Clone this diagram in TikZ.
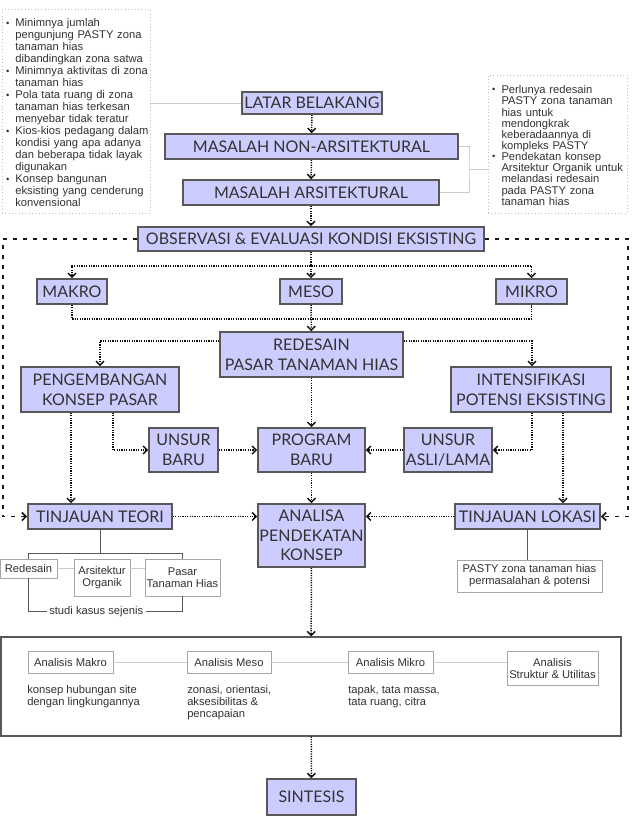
\documentclass[tikz,border=0pt]{standalone}
\usepackage{fontspec}
\setmainfont{Liberation Sans}
\newfontfamily\headfont{Lato}
\usepackage{xcolor}
\usetikzlibrary{arrows.meta, calc}

\definecolor{isian}{RGB}{204,204,255}
\definecolor{tepi}{RGB}{88,88,88}
\definecolor{tulisan}{RGB}{50,50,50}

\newenvironment{poin}{\begin{list}{\raisebox{0.15ex}{\scriptsize\textbullet}}{%
    \setlength\leftmargin{9.5pt}\setlength\labelwidth{5pt}\setlength\labelsep{4.5pt}%
    \setlength\itemsep{0pt}\setlength\parsep{0pt}\setlength\topsep{0pt}\setlength\partopsep{0pt}}}%
  {\end{list}}

\begin{document}
\begin{tikzpicture}[x=0.75pt, y=-0.75pt, >={Straight Barb[length=3pt,width=6pt]},
    judul/.style={draw=tepi, line width=1.2pt, fill=isian, text=tulisan, inner sep=0pt,
        font=\headfont\fontsize{12}{14.75}\selectfont, align=center},
    kotak/.style={draw=black!35, line width=0.6pt, fill=white, text=tulisan, inner sep=0pt,
        font=\fontsize{8.4}{9}\selectfont, align=center},
    catatan/.style={draw=black!25, dotted, line width=0.5pt, text=tulisan, inner sep=0pt, align=left},
    teks/.style={text=tulisan, inner sep=0pt, font=\fontsize{8.4}{9.1}\selectfont, align=left},
    alur/.style={->, draw=black!95, line width=1.1pt, dash pattern=on 0.9pt off 0.9pt},
    garis/.style={draw=black!20, line width=0.5pt},
    tegas/.style={draw=black!65, line width=0.7pt},
    putar/.style={->, draw=black!90, line width=1.3pt, dash pattern=on 3pt off 4.5pt}]
    \useasboundingbox (0,0) rectangle (631,816);

    % Catatan latar belakang
    \node[catatan, minimum width=111pt, minimum height=153pt, text width=110pt,
        font=\fontsize{8.4}{9}\selectfont] (catkiri) at (76,111) {\begin{poin}
        \item Minimnya jumlah\\ pengunjung PASTY zona\\ tanaman hias\\ dibandingkan zona satwa
        \item Minimnya aktivitas di zona\\ tanaman hias
        \item Pola tata ruang di zona\\ tanaman hias terkesan\\ menyebar tidak teratur
        \item Kios-kios pedagang dalam\\ kondisi yang apa adanya\\ dan beberapa tidak layak\\ digunakan
        \item Konsep bangunan\\ eksisting yang cenderung\\ konvensional
        \end{poin}};
    \node[catatan, minimum width=104.25pt, minimum height=103.5pt, text width=103pt,
        font=\fontsize{8.4}{8.35}\selectfont] (catkanan) at (557.5,144) {\begin{poin}
        \item Perlunya redesain\\ PASTY zona tanaman\\ hias untuk\\ mendongkrak\\ keberadaannya di\\ kompleks PASTY
        \item Pendekatan konsep\\ Arsitektur Organik untuk\\ melandasi redesain\\ pada PASTY zona\\ tanaman hias
        \end{poin}};

    % Kotak utama
    \node[judul, minimum width=105pt, minimum height=16.5pt] (latar) at (312,103) {LATAR BELAKANG};
    \node[judul, minimum width=219.75pt, minimum height=18.75pt] (nonars) at (311.5,146.5) {MASALAH NON-ARSITEKTURAL};
    \node[judul, minimum width=192pt, minimum height=18.75pt] (ars) at (311,192.5) {MASALAH ARSITEKTURAL};
    \node[judul, minimum width=259.5pt, minimum height=18pt] (observasi) at (311,239) {OBSERVASI \& EVALUASI KONDISI EKSISTING};
    \node[judul, minimum width=52.5pt, minimum height=18.75pt] (makro) at (72,291.5) {MAKRO};
    \node[judul, minimum width=46.5pt, minimum height=18.75pt] (meso) at (311,291.5) {MESO};
    \node[judul, minimum width=53.25pt, minimum height=18.75pt] (mikro) at (531.5,291.5) {MIKRO};
    \node[judul, minimum width=137.25pt, minimum height=33.75pt] (redesain) at (311.5,354.5) {REDESAIN\\ PASAR TANAMAN HIAS};
    \node[judul, minimum width=118.5pt, minimum height=33.75pt] (pengembangan) at (100,389.5) {PENGEMBANGAN\\ KONSEP PASAR};
    \node[judul, minimum width=120pt, minimum height=33.75pt] (intensifikasi) at (531,389.5) {INTENSIFIKASI\\ POTENSI EKSISTING};
    \node[judul, minimum width=51.75pt, minimum height=33pt] (unsurbaru) at (183.5,450) {UNSUR\\ BARU};
    \node[judul, minimum width=80.25pt, minimum height=33pt] (program) at (311.5,450) {PROGRAM\\ BARU};
    \node[judul, minimum width=66pt, minimum height=33pt] (unsurasli) at (448,450) {UNSUR\\ ASLI/LAMA};
    \node[judul, minimum width=108pt, minimum height=18.75pt] (teori) at (100,516.5) {TINJAUAN TEORI};
    \node[judul, minimum width=80.25pt, minimum height=47.25pt] (analisa) at (311.5,535.5) {ANALISA\\ PENDEKATAN\\ KONSEP};
    \node[judul, minimum width=108.75pt, minimum height=18.75pt] (lokasi) at (527.5,516.5) {TINJAUAN LOKASI};
    \node[judul, minimum width=66.75pt, minimum height=27pt] (sintesis) at (311.5,797) {SINTESIS};

    % Kotak kecil tinjauan
    \node[kotak, minimum width=42.75pt, minimum height=14.25pt] (kredesain) at (28.5,568.5) {Redesain};
    \node[kotak, minimum width=42pt, minimum height=27.75pt] (korganik) at (102,577.5) {Arsitektur\\ Organik};
    \node[kotak, minimum width=56.25pt, minimum height=27.75pt] (kpasar) at (182.5,577.5) {Pasar\\ Tanaman Hias};
    \node[kotak, minimum width=108.75pt, minimum height=24pt] (kpasty) at (529.5,576) {PASTY zona tanaman hias\\ permasalahan \& potensi};

    % Kotak analisis
    \node[draw=tepi, line width=0.9pt, minimum width=465pt, minimum height=74.25pt] (analisis) at (311,686.5) {};
    \node[kotak, minimum width=63.75pt, minimum height=16.5pt] (amakro) at (70.5,662) {Analisis Makro};
    \node[kotak, minimum width=63pt, minimum height=16.5pt] (ameso) at (229,662) {Analisis Meso};
    \node[kotak, minimum width=63.75pt, minimum height=16.5pt] (amikro) at (390.5,662) {Analisis Mikro};
    \node[kotak, minimum width=68.25pt, minimum height=25.5pt] (astruktur) at (552.5,668) {Analisis\\ Struktur \& Utilitas};
    \node[teks, anchor=north west] (dmakro) at (27,685) {konsep hubungan site\\ dengan lingkungannya};
    \node[teks, anchor=north west] (dmeso) at (187,685) {zonasi, orientasi,\\ aksesibilitas \&\\ pencapaian};
    \node[teks, anchor=north west] (dmikro) at (348,685) {tapak, tata massa,\\ tata ruang, citra};

    % Garis penghubung catatan
    \draw[garis] (latar.west) -- (latar.west -| catkiri.east);
    \coordinate (kurung) at (469,169);
    \draw[garis] (nonars.east) -| (kurung) |- (ars.east);
    \draw[garis] (kurung) -- (kurung -| catkanan.west);

    % Alur utama
    \draw[alur] (latar) -- (nonars);
    \draw[alur] (nonars) -- (ars);
    \draw[alur] (ars) -- (observasi);
    \draw[alur] (observasi) -- (meso);
    \draw[alur] (observasi.south) -- ++(0,14) -| (makro.north);
    \draw[alur] (observasi.south) -- ++(0,14) -| (mikro.north);
    \draw[alur, -] (makro.south) -- ++(0,14) -| (mikro.south);
    \draw[alur] (meso) -- (redesain);
    \draw[alur] ([yshift=10pt]redesain.west) -| (pengembangan.north);
    \draw[alur] ([yshift=10pt]redesain.east) -| ([xshift=0.75pt]intensifikasi.north);
    \draw[alur] (redesain) -- (program);
    \draw[alur] ([xshift=9.75pt]pengembangan.south) |- (unsurbaru.west);
    \draw[alur] ([xshift=0.75pt]intensifikasi.south) |- (unsurasli.east);
    \draw[alur] (unsurbaru) -- (program);
    \draw[alur] (unsurasli) -- (program);
    \draw[alur] ([xshift=-21.75pt]pengembangan.south) -- ([xshift=-21.75pt]pengembangan.south |- teori.north);
    \draw[alur] ([xshift=24pt]intensifikasi.south) -- ([xshift=24pt]intensifikasi.south |- lokasi.north);
    \draw[alur] (program) -- (analisa);
    \draw[alur] (teori.east) -- (teori.east -| analisa.west);
    \draw[alur] (lokasi.west) -- (lokasi.west -| analisa.east);
    \draw[alur] (analisa) -- (analisis);
    \draw[alur] (analisis) -- (sintesis);

    % Putaran observasi
    \coordinate (sudutkiri) at (3,516.5);
    \coordinate (sudutkanan) at (628,516.5);
    \draw[putar] (observasi.west) -| (sudutkiri) -- (teori.west);
    \draw[putar] (observasi.east) -| (sudutkanan) -- (lokasi.east);

    % Tinjauan
    \draw[tegas] (teori.south) -- ++(0,24) coordinate (cabang);
    \draw[tegas] (kredesain.north) |- (cabang) -| (kpasar.north);
    \draw[tegas] (kredesain.south) -- ++(0,33) -| (kpasar.south)
        node[pos=0.22, fill=white, inner sep=2pt, text=tulisan, font=\fontsize{8.4}{9}\selectfont] (studi) {studi kasus sejenis};
    \draw[garis] (kredesain.east) -- (kredesain.east -| korganik.west);
    \draw[garis] (kredesain.east -| korganik.east) -- (kredesain.east -| kpasar.west);
    \draw[tegas] (lokasi.south) -- (lokasi.south |- kpasty.north);

    % Garis analisis
    \draw[garis] (amakro) -- (ameso);
    \draw[garis] (ameso) -- (amikro);
    \draw[garis] (amikro.east) -- (amikro.east -| astruktur.west);
\end{tikzpicture}
\end{document}
